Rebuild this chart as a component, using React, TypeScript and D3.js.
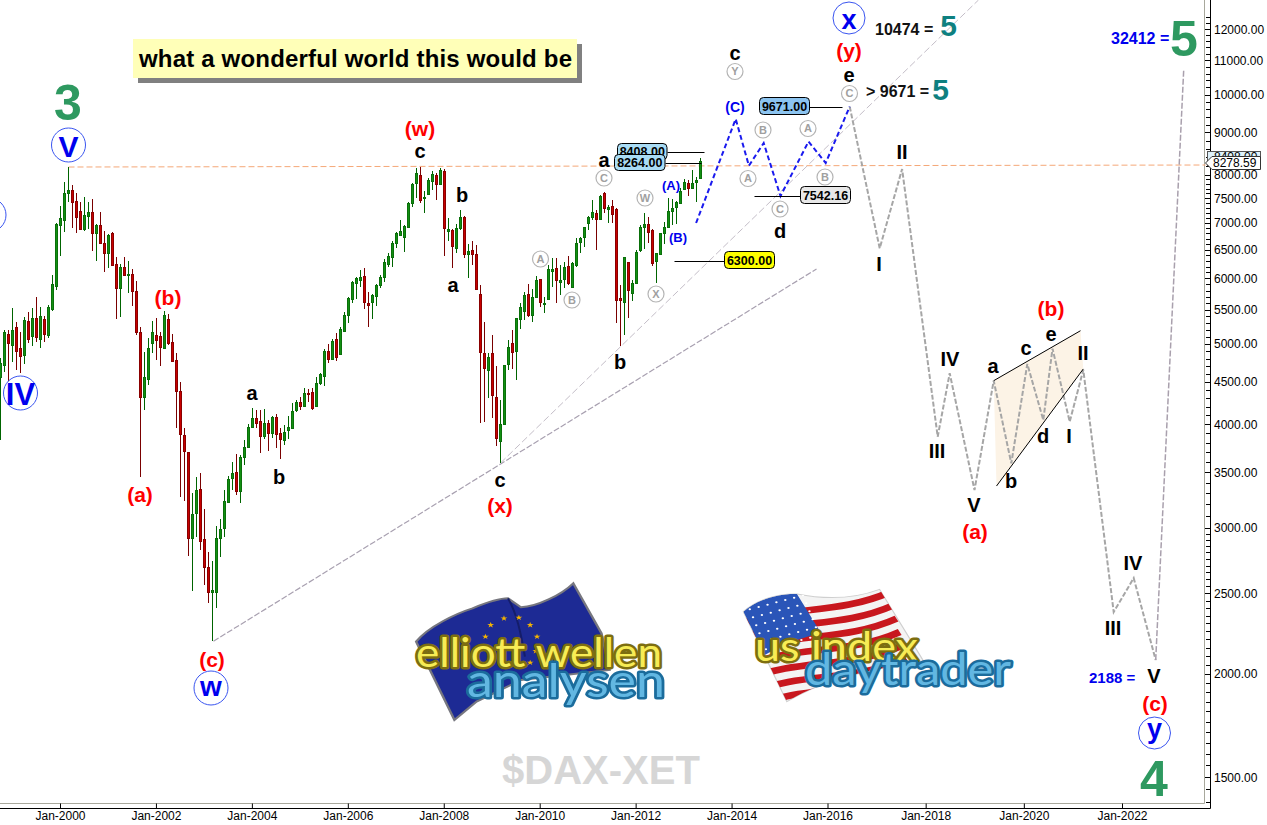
import React from 'react';
import * as d3 from 'd3';

// monthly $DAX-XET candles, first bar is Oct-1998
const firstMonth = -15; // months relative to Jan-2000

const opens = [
  4562, 4716, 5140,
  4986, 5242, 4945, 4850, 5329, 5111, 5373, 5069, 5359, 5125, 5510, 5874,
  6959, 7057, 7606, 7671, 7440, 7236, 6882, 7136, 7216, 6806, 6959, 6620,
  6437, 6806, 6244, 5841, 6192, 6056, 6073, 5793, 5170, 4315, 4537, 5013,
  5125, 5111, 4945, 5359, 5027, 4782, 4388, 3882, 3702, 2915, 3125, 3340,
  2907, 2689, 2509, 2509, 2915, 2998, 3222, 3444, 3502, 3322, 3651, 3754,
  3969, 4070, 4036, 3871, 4013, 3903, 4081, 3903, 3828, 3936, 3958, 4162,
  4255, 4209, 4363, 4376, 4209, 4487, 4575, 4904, 4796, 5069, 4863, 5184,
  5419, 5665, 5922, 5972, 6039, 5603, 5618, 5713, 5890, 6022, 6244, 6367,
  6620, 6768, 6731, 6921, 7399, 7822, 7997, 7502, 7585, 7866, 7997, 7800,
  8086, 6844, 6863, 6530, 6902, 7116, 6420, 6492, 6420, 5745, 4877, 4651,
  4877, 4315, 3817, 4001, 4729, 5013, 4904, 5359, 5480, 5745, 5419, 5697,
  5989, 5587, 5665, 6124, 6175, 5939, 5989, 6209, 5857, 6227, 6638, 6731,
  6998, 7116, 7196, 7077, 7606, 7276, 7337, 7276, 5681, 5618, 6279, 5761,
  5922, 6492, 6921, 6979, 6863, 6297, 6420, 6806, 6921, 7236, 7317, 7399,
  7693, 7822, 7714, 7844, 7931,
];
const highs = [
  4808, 5198, 5198,
  5526, 5315, 5170, 5388, 5465, 5526, 5697, 5541, 5403, 5572, 6056, 6998,
  7337, 7844, 8176, 7778, 7606, 7419, 7523, 7419, 7481, 6979, 7216, 6844,
  6787, 6825, 6367, 6244, 6367, 6297, 6158, 5955, 5242, 4890, 5083, 5329,
  5373, 5170, 5480, 5434, 5140, 4877, 4499, 3958, 3702, 3303, 3454, 3492,
  3160, 2804, 2735, 3014, 3074, 3331, 3463, 3601, 3681, 3671, 3828, 4001,
  4185, 4162, 4162, 4173, 4047, 4093, 4116, 3958, 3991, 4093, 4244, 4279,
  4315, 4425, 4412, 4425, 4562, 4613, 4931, 5000, 5069, 5155, 5242, 5465,
  5697, 5955, 6022, 6141, 6175, 5777, 5745, 5906, 6056, 6331, 6437, 6657,
  6825, 7057, 6959, 7419, 7822, 8154, 8176, 7650, 7931, 8086, 8041, 8154,
  8131, 7097, 6882, 6979, 7256, 7136, 6602, 6657, 6583, 5890, 5315, 4877,
  5125, 4703, 4279, 4716, 5055, 5198, 5373, 5603, 5777, 5906, 5825, 6039,
  5989, 5697, 6227, 6349, 6349, 6227, 6279, 6385, 6279, 6713, 6731, 6921,
  7136, 7460, 7256, 7564, 7628, 7358, 7460, 7296, 5890, 6367, 6279, 5972,
  6492, 6959, 7196, 7116, 6882, 6437, 6806, 7017, 7502, 7481, 7440, 7714,
  7909, 7887, 8109, 7953, 8385,
];
const lows = [
  3828, 4626, 4487,
  4756, 4651, 4613, 4729, 5013, 4972, 5027, 4945, 5027, 5083, 5480, 5809,
  6385, 6825, 7419, 6902, 6806, 6863, 6844, 6882, 6474, 6297, 6602, 6107,
  6175, 6227, 5359, 5388, 6056, 5761, 5556, 5125, 3454, 4162, 4462, 4877,
  4782, 4703, 4931, 4986, 4756, 3958, 3267, 3231, 2773, 2516, 2923, 2820,
  2558, 2433, 2188, 2399, 2765, 2923, 3213, 3331, 3285, 3213, 3571, 3744,
  3969, 3958, 3692, 3839, 3713, 3850, 3744, 3631, 3775, 3839, 3958, 4139,
  4162, 4197, 4255, 4162, 4197, 4462, 4449, 4742, 4796, 4769, 4850, 5170,
  5300, 5603, 5665, 5857, 5510, 5242, 5359, 5556, 5841, 5939, 6192, 6192,
  6530, 6768, 6456, 6902, 7317, 7502, 7399, 7196, 7564, 7671, 7460, 7778,
  6385, 6657, 6175, 6437, 6863, 6349, 6005, 6227, 5809, 4013, 4025, 4303,
  4070, 3765, 3591, 3991, 4651, 4664, 4524, 5213, 5344, 5388, 5315, 5681,
  5541, 5449, 5650, 5857, 5603, 5729, 5841, 5890, 5841, 6192, 6437, 6547,
  6863, 7057, 6492, 7057, 7196, 6998, 6998, 5300, 4972, 5125, 5373, 5634,
  5906, 6456, 6511, 6620, 6209, 5922, 6403, 6602, 6902, 6959, 6979, 7399,
  7671, 7544, 7693, 7419, 7909,
];
const closes = [
  4742, 5170, 5013,
  5198, 4904, 4836, 5344, 5069, 5373, 5097, 5403, 5140, 5541, 5906, 6979,
  7097, 7606, 7671, 7419, 7116, 6882, 7156, 7216, 6806, 6959, 6620, 6437,
  6768, 6227, 5841, 6192, 6056, 6073, 5793, 5170, 4315, 4562, 4945, 5170,
  5055, 4959, 5419, 5013, 4769, 4388, 3892, 3713, 2915, 3116, 3331, 2891,
  2689, 2509, 2523, 2915, 2989, 3231, 3434, 3492, 3322, 3651, 3754, 3969,
  4070, 4013, 3871, 4013, 3903, 4081, 3892, 3839, 3914, 3969, 4150, 4255,
  4209, 4363, 4351, 4185, 4487, 4600, 4904, 4796, 5041, 4823, 5213, 5419,
  5681, 5939, 6005, 6022, 5618, 5572, 5729, 5890, 6022, 6279, 6385, 6620,
  6806, 6844, 6940, 7399, 7800, 8041, 7460, 7523, 7887, 8019, 7800, 8109,
  6902, 6882, 6565, 6902, 7116, 6420, 6474, 6420, 5825, 4890, 4677, 4823,
  4339, 3850, 4001, 4716, 4959, 4890, 5373, 5541, 5729, 5419, 5697, 5972,
  5618, 5603, 6158, 6158, 5972, 5972, 6192, 5922, 6262, 6620, 6713, 6921,
  7116, 7216, 7077, 7544, 7296, 7317, 7176, 5650, 5650, 6367, 5809, 5922,
  6456, 6921, 6979, 6825, 6262, 6437, 6806, 6921, 7236, 7296, 7419, 7650,
  7844, 7714, 7822, 7887, 8315,
];

// projected wave count: months after Jan-2000 and price
const blueMonths = [158.9, 168.8, 172.1, 175.8, 180, 187, 191.3, 197.3];
const bluePrices = [6998, 9345, 8206, 8740, 7542, 8775, 8269, 9671];
const greyMonths = [197.3, 204.8, 210.4, 219.3, 222.3, 228.5, 233.3, 237.7, 241.7, 245.7, 248, 252.3, 255.7, 263.3, 268.3, 273.8];
const greyPrices = [9671, 6522, 8131, 3863, 4608, 3331, 4514, 3588, 4729, 4047, 4935, 4028, 4651, 2373, 2608, 2076];
const lastLegMonths = [273.8, 280.8];
const lastLegPrices = [2076, 10707];

// trend lines
const lowerTrendMonths = [38.25, 189];
const lowerTrendPrices = [2188, 6158];
const upperTrendMonths = [110, 229.5];
const upperTrendPrices = [3591, 13008];
const peakLineMonths = [2, 286.25];
const peakLinePrices = [8176, 8222];

// triangle of wave (b)
const triangleTopMonths = [233.3, 255];
const triangleTopPrices = [4514, 5187];
const triangleBottomMonths = [234, 255.7];
const triangleBottomPrices = [3368, 4664];

// target levels with their leader lines
const levelPrices = [8530, 8264, 6300, 7542.16, 9671];
const levelStarts = [151.75, 151.25, 153.5, 173.5, 187.25];
const levelEnds = [161, 160.25, 166, 185, 195.5];

const yTickLabels = [1500, 2000, 2500, 3000, 3500, 4000, 4500, 5000, 5500, 6000, 6500, 7000, 7500, 8000, 9000, 10000, 11000, 12000];
const xTickYears = d3.range(2000, 2023, 2);

const WIDTH = 1267;
const HEIGHT = 825;
const AXIS_X = 1210;
const AXIS_Y = 808;
const FRAME_X = 1204.5;
const FRAME_Y = 803.5;
const FONT = '"Liberation Sans", Arial, sans-serif';

const x = d3.scaleLinear().domain([0, 1]).range([60.5, 64.5]);
const y = d3.scaleLog().domain([1500, 12000]).range([777, 29]);
// the time axis of the screenshot stretches a little in the projected part
const xTick = d3.scaleLinear().domain([0, 192, 264]).range([60.5, 828, 1122.5]);

const lineOf = (months: number[], prices: number[]) =>
  d3.line<number>().x(m => x(m)).y((_, i) => y(prices[i]))(months) as string;

const ticksBetween = () => [
  ...d3.range(1400, 3000, 50),
  ...d3.range(3000, 8000, 100),
  ...d3.range(8000, 12600, 200),
];

const candles = opens.map((open, i) => ({
  month: firstMonth + i,
  open,
  high: highs[i],
  low: lows[i],
  close: closes[i],
}));

// hand placed annotations
const redLabels: [string, number, number][] = [
  ['(w)', 420, 128], ['(b)', 168, 297], ['(a)', 140, 494], ['(c)', 212, 659], ['(x)', 500, 505],
  ['(y)', 849, 50], ['(b)', 1051, 308], ['(a)', 975, 531], ['(c)', 1155, 703],
];
const blackLabels: [string, number, number][] = [
  ['c', 420, 151], ['b', 462, 195], ['a', 453, 285], ['a', 252, 393], ['b', 279, 477],
  ['c', 500, 480], ['b', 620, 362], ['a', 604, 160], ['c', 735, 53], ['e', 849, 75], ['d', 780, 231],
  ['II', 902, 152], ['I', 879, 264], ['III', 937, 451], ['IV', 950, 359], ['V', 974, 505],
  ['a', 993, 366], ['b', 1011, 481], ['c', 1026, 348], ['d', 1043, 436], ['e', 1051, 334],
  ['I', 1069, 436], ['II', 1083, 353], ['III', 1113, 628], ['IV', 1133, 563], ['V', 1154, 676],
];
const blueLabels: [string, number, number, number][] = [
  ['(C)', 735, 107, 14], ['(A)', 671, 185, 13], ['(B)', 678, 237, 13],
];
const greyCircles: [string, number, number][] = [
  ['Y', 735, 71.5], ['C', 604, 178], ['A', 540.5, 259], ['B', 572, 300], ['W', 645, 198], ['X', 656, 294],
  ['A', 748, 178.5], ['B', 763, 130], ['C', 780, 209], ['A', 808, 128.5], ['B', 825, 177], ['C', 849.5, 93.5],
];
// text, centre x, centre y, radius, font size, text y
const blueCircles: [string, number, number, number, number, number][] = [
  ['V', 68.5, 145, 17, 30, 146],
  ['', -11, 215, 17, 30, 215],
  ['IV', 20.5, 393, 17, 31, 394],
  ['w', 211, 688, 17, 28, 686],
  ['x', 849, 18, 16, 27, 19],
  ['y', 1154.5, 733, 16, 27, 728],
];
const boxes: [string, number, number, number, number, string][] = [
  ['8408.00', 617.5, 143.5, 49.5, 16, '#a9dcf5'],
  ['8264.00', 614.5, 154.5, 50.5, 16, '#a9dcf5'],
  ['9671.00', 759.5, 97.5, 50, 17, '#8cc4f0'],
  ['7542.16', 800.5, 186.5, 50, 17, '#e8e8e8'],
  ['6300.00', 724.5, 251.5, 50, 17, '#ffff00'],
];

function Label({ text, cx, cy, size, color, anchor = 'middle' }: any) {
  return (
    <text x={cx} y={cy + size * 0.36} fontSize={size} fontWeight="bold" fill={color} textAnchor={anchor} fontFamily={FONT}>
      {text}
    </text>
  );
}

function EuLogo() {
  const stars = [[225, 165], [258, 145], [295, 143], [323, 165], [340, 200], [212, 200], [337, 243], [323, 278]];
  const star = d3.symbol().type(d3.symbolStar).size(90)() as string;
  return (
    <g>
      <g transform="translate(400,570) scale(0.403,0.3333)">
        <path
          d="M40 215 C70 170 140 130 180 115 C210 100 245 85 268 85 L300 112 C340 110 400 75 430 40 L500 190 L520 300 L300 330 L190 395 L135 450 Z"
          fill="#1d2a94" stroke="#77777f" strokeWidth={6}
        />
        <path d="M268 85 C290 130 300 190 310 260" fill="none" stroke="#141d6a" strokeWidth={5} />
        {stars.map(([sx, sy], i) => (
          <path key={i} d={star} transform={`translate(${sx},${sy})`} fill="#f5b400" />
        ))}
      </g>
      <Tube text="elliott wellen" px={416} base={667} len={246} size={40} fill="#f7ec55" edge="#7d6e10" />
      <Tube text="analysen" px={467} base={697} len={198} size={46} fill="#62b7e2" edge="#1b6c9c" />
    </g>
  );
}

function UsLogo() {
  const flag = 'M852 125 C880 95 930 70 985 72 C1060 90 1130 85 1190 58 L1300 275 C1200 290 1060 320 960 395 Z';
  const canton = 'M852 125 C880 95 930 70 985 72 L1045 190 C1000 200 950 225 905 255 Z';
  const dots = d3.cross(d3.range(0, 7), d3.range(0, 6));
  return (
    <g transform="translate(400,570) scale(0.403,0.3333)">
      <clipPath id="us-flag"><path d={flag} /></clipPath>
      <path d={flag} fill="#f4f4f4" stroke="#cfcfcf" strokeWidth={3} />
      <g clipPath="url(#us-flag)">
        {d3.range(0, 7).map(k => (
          <path
            key={k}
            d="M830 150 C950 90 1080 120 1210 50"
            transform={`translate(${k * 8 + 6},${k * 40 + 16})`}
            fill="none" stroke="#c8171e" strokeWidth={20}
          />
        ))}
        <path d={canton} fill="#2a55b8" />
        {dots.map(([i, j]) => (
          <circle key={`${i}-${j}`} cx={868 + i * 22 + j * 8} cy={118 - i * 7 + j * 24} r={3} fill="#fff" />
        ))}
      </g>
    </g>
  );
}

function Tube({ text, px, base, len, size, fill, edge }: any) {
  return (
    <text
      x={px} y={base} fontSize={size} fontFamily='Lato, "Open Sans", sans-serif' fontWeight={400}
      textLength={len} lengthAdjust="spacingAndGlyphs"
      fill={fill} stroke={edge} strokeWidth={5} strokeLinejoin="round"
      style={{ paintOrder: 'stroke' }}
    >
      {text}
    </text>
  );
}

export default function App() {
  const trianglePoints = [
    [x(triangleTopMonths[0]), y(triangleTopPrices[0])],
    [x(triangleTopMonths[1]), y(triangleTopPrices[1])],
    [x(triangleBottomMonths[1]), y(triangleBottomPrices[1])],
    [x(triangleBottomMonths[0]), y(triangleBottomPrices[0])],
  ].join(' ');

  return (
    <svg width={WIDTH} height={HEIGHT} style={{ position: 'absolute', left: 0, top: 0, background: '#fff' }}>
      {/* frame and axes */}
      <path d={`M${FRAME_X} 0V${FRAME_Y}H0`} fill="none" stroke="#a8a89c" />
      <path d={`M${AXIS_X + 0.5} 0V${AXIS_Y + 0.5}H0`} fill="none" stroke="#000" />
      {ticksBetween().map(v => (
        <line key={v} x1={AXIS_X - 4} x2={AXIS_X} y1={Math.round(y(v)) + 0.5} y2={Math.round(y(v)) + 0.5} stroke="#000" />
      ))}
      {yTickLabels.map(v => (
        <g key={v}>
          <line x1={AXIS_X - 5} x2={AXIS_X} y1={Math.round(y(v)) + 0.5} y2={Math.round(y(v)) + 0.5} stroke="#000" />
          <text x={1214} y={y(v) + 4.5} fontSize={12} fill="#000" fontFamily={FONT}>{d3.format('.2f')(v)}</text>
        </g>
      ))}
      {xTickYears.map(year => {
        const m = (year - 2000) * 12;
        return (
          <g key={year}>
            <line x1={xTick(m)} x2={xTick(m)} y1={FRAME_Y} y2={AXIS_Y} stroke="#000" />
            <text x={xTick(m)} y={820} fontSize={12} textAnchor="middle" fill="#000" fontFamily={FONT}>
              {d3.timeFormat('%b-%Y')(new Date(year, 0, 1))}
            </text>
          </g>
        );
      })}

      {/* peak line and trend lines */}
      <path d={lineOf(lowerTrendMonths, lowerTrendPrices)} fill="none" stroke="#a8a0b0" strokeWidth={1.2} strokeDasharray="6 2" />
      <path d={lineOf(upperTrendMonths, upperTrendPrices)} fill="none" stroke="#c4bec8" strokeWidth={1} strokeDasharray="7 3" />
      <path d={lineOf(peakLineMonths, peakLinePrices)} fill="none" stroke="#f5a878" strokeWidth={1} strokeDasharray="6 3" />

      {/* triangle */}
      <polygon points={trianglePoints} fill="#fcf3e6" />

      {/* candles */}
      <g shapeRendering="crispEdges">
        {candles.map(d => {
          const up = d.close >= d.open;
          const cx = Math.floor(x(d.month)) + 0.5;
          const top = Math.round(y(Math.max(d.open, d.close))) + 0.5;
          const bottom = Math.round(y(Math.min(d.open, d.close))) + 0.5;
          return (
            <g key={d.month}>
              <line x1={cx} x2={cx} y1={y(d.high)} y2={y(d.low)} stroke={up ? '#006400' : '#7a0000'} />
              <rect
                x={cx - 1} y={top} width={2} height={Math.max(bottom - top, 1)}
                fill={up ? '#129012' : '#c80000'} stroke={up ? '#0a6f0a' : '#8a0000'}
              />
            </g>
          );
        })}
      </g>

      {/* projected waves */}
      <path d={lineOf(greyMonths, greyPrices)} fill="none" stroke="#a6a6a6" strokeWidth={2} strokeDasharray="5 2" />
      <path d={lineOf(lastLegMonths, lastLegPrices)} fill="none" stroke="#a9a0ad" strokeWidth={1.5} strokeDasharray="6 2" />
      <path d={lineOf(blueMonths, bluePrices)} fill="none" stroke="#1a1aee" strokeWidth={2} strokeDasharray="5 3" />
      <line x1={x(triangleTopMonths[0])} y1={y(triangleTopPrices[0])} x2={x(triangleTopMonths[1])} y2={y(triangleTopPrices[1])} stroke="#000" />
      <line x1={x(triangleBottomMonths[0])} y1={y(triangleBottomPrices[0])} x2={x(triangleBottomMonths[1])} y2={y(triangleBottomPrices[1])} stroke="#000" />

      {/* target levels */}
      {levelPrices.map((p, i) => (
        <line
          key={i} x1={x(levelStarts[i])} x2={x(levelEnds[i])}
          y1={Math.round(y(p)) + 0.5} y2={Math.round(y(p)) + 0.5} stroke="#000"
        />
      ))}
      {boxes.map(([t, bx, by, bw, bh, fill]) => (
        <g key={t}>
          <rect x={bx} y={by} width={bw} height={bh} rx={4} fill={fill} stroke="#000" />
          <text x={bx + bw / 2} y={by + bh / 2 + 4.5} fontSize={12.5} fontWeight="bold" textAnchor="middle" fill="#000" fontFamily={FONT}>{t}</text>
        </g>
      ))}

      {/* wave labels */}
      {redLabels.map(([t, cx, cy], i) => <Label key={i} text={t} cx={cx} cy={cy} size={21} color="#ff0000" />)}
      {blackLabels.map(([t, cx, cy], i) => <Label key={i} text={t} cx={cx} cy={cy} size={20} color="#000" />)}
      {blueLabels.map(([t, cx, cy, s], i) => <Label key={i} text={t} cx={cx} cy={cy} size={s} color="#0000ee" />)}
      {greyCircles.map(([t, cx, cy], i) => (
        <g key={i}>
          <circle cx={cx} cy={cy} r={8} fill="#fff" stroke="#b4b4b4" strokeWidth={1.2} />
          <text x={cx} y={cy + 3.8} fontSize={11} textAnchor="middle" fill="#a0a0a0" fontWeight="bold" fontFamily={FONT}>{t}</text>
        </g>
      ))}
      {blueCircles.map(([t, cx, cy, r, s, ty], i) => (
        <g key={i}>
          <circle cx={cx} cy={cy} r={r} fill="#fff" stroke="#3a55f0" />
          <Label text={t} cx={cx} cy={ty} size={s} color="#0000ee" />
        </g>
      ))}

      {/* counts */}
      <Label text="3" cx={68} cy={102} size={50} color="#2e9960" />
      <Label text="4" cx={1154} cy={778} size={50} color="#2e9960" />
      <Label text="5" cx={1184} cy={38} size={50} color="#2e9960" />
      <Label text="5" cx={948.5} cy={25.2} size={30} color="#0e8080" />
      <Label text="5" cx={940.5} cy={89.2} size={30} color="#0e8080" />
      <Label text="10474 =" cx={875} cy={29} size={16} color="#111" anchor="start" />
      <Label text="> 9671 =" cx={866} cy={91} size={16} color="#111" anchor="start" />
      <Label text="32412 =" cx={1111} cy={38} size={16} color="#0000ee" anchor="start" />
      <Label text="2188 =" cx={1089} cy={678} size={15} color="#0000ee" anchor="start" />

      {/* last price tag */}
      <rect x={1207.5} y={151.5} width={53} height={14} fill="#dff2fb" stroke="#555" />
      <text x={1214} y={161} fontSize={12} fill="#000" fontFamily={FONT}>8408.00</text>
      <path d="M1205.5 163 L1212 156.5 H1260.5 V169.5 H1212 Z" fill="#fff" stroke="#333" />
      <text x={1213} y={167} fontSize={12} fill="#000" fontFamily={FONT}>8278.59</text>

      {/* title */}
      <rect x={138} y={44} width={444} height={39} fill="#808080" />
      <rect x={133} y={39} width={444} height={39} fill="#ffffb8" />
      <text x={139} y={67} fontSize={24} fontWeight="bold" fill="#000" fontFamily={FONT} textLength={433}>
        what a wonderful world this would be
      </text>

      {/* logos and symbol */}
      <EuLogo />
      <UsLogo />
      <Tube text="us index" px={755} base={661} len={163} size={40} fill="#f7ec55" edge="#7d6e10" />
      <Tube text="daytrader" px={805} base={685} len={206} size={44} fill="#62b7e2" edge="#1b6c9c" />
      <text x={601} y={784} fontSize={40} fontWeight="bold" textAnchor="middle" fill="#d6d6d6" fontFamily={FONT}>$DAX-XET</text>
    </svg>
  );
}
